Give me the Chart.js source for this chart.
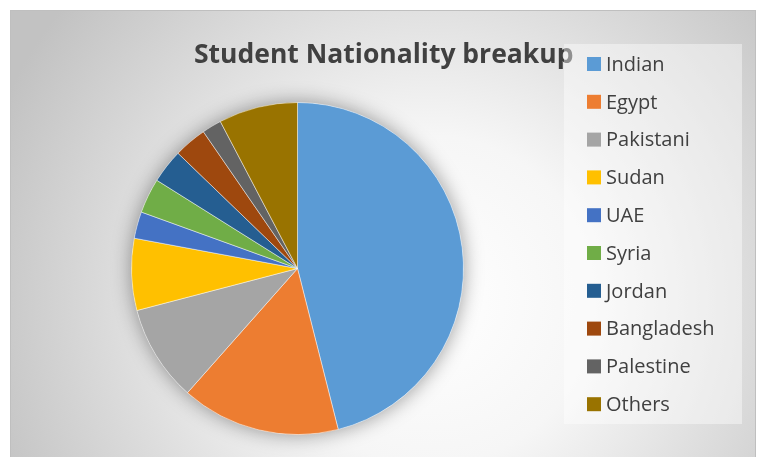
<!DOCTYPE html>
<html>
<head>
<meta charset="utf-8">
<title>Student Nationality breakup</title>
<script src="https://cdn.jsdelivr.net/npm/chart.js@4.4.1/dist/chart.umd.min.js"></script>
<style>
  html, body { margin: 0; padding: 0; background: #ffffff; }
  #wrap { width: 760px; height: 457px; }
</style>
</head>
<body>
<div id="wrap"><canvas id="nationalityChart" width="760" height="457"></canvas></div>
<script>
// chart data (% of students)
const chartTitle = "Student Nationality breakup";
const nationalities = ["Indian", "Egypt", "Pakistani", "Sudan", "UAE", "Syria", "Jordan", "Bangladesh", "Palestine", "Others"];
const shares = [46.1, 15.5, 9.4, 7.0, 2.6, 3.4, 3.3, 3.2, 1.9, 7.7];
const sliceColors = ["#5B9BD5", "#ED7D31", "#A5A5A5", "#FFC000", "#4472C4", "#70AD47", "#255E91", "#9E480E", "#636363", "#997300"];

// frame, background gradient and the soft shadow under the pie
const backdrop = {
  id: "backdrop",
  beforeDraw(chart) {
    const ctx = chart.ctx;
    ctx.save();
    ctx.fillStyle = "#ffffff";
    ctx.fillRect(0, 0, chart.width, chart.height);
    const g = ctx.createRadialGradient(430, 300, 0, 430, 300, 470);
    g.addColorStop(0, "#ffffff");
    g.addColorStop(0.35, "#f6f6f6");
    g.addColorStop(1, "#c2c2c2");
    ctx.fillStyle = g;
    ctx.fillRect(10, 10, 746, 447);
    ctx.strokeStyle = "#bfbfbf";
    ctx.lineWidth = 1;
    ctx.strokeRect(10.5, 10.5, 745, 447);
    ctx.restore();
  },
  beforeDatasetsDraw(chart) {
    const arc = chart.getDatasetMeta(0).data[0];
    if (!arc) return;
    const ctx = chart.ctx;
    ctx.save();
    ctx.shadowColor = "rgba(0,0,0,0.4)";
    ctx.shadowBlur = 20;
    ctx.fillStyle = "#ffffff";
    ctx.beginPath();
    ctx.arc(arc.x, arc.y, arc.outerRadius, 0, Math.PI * 2);
    ctx.fill();
    ctx.restore();
  }
};

// title and legend drawn the way the spreadsheet laid them out
const titleAndLegend = {
  id: "titleAndLegend",
  afterDraw(chart) {
    const ctx = chart.ctx;
    ctx.save();
    ctx.fillStyle = "#404040";
    ctx.font = "bold 26.5px 'Open Sans', 'Noto Sans', sans-serif";
    ctx.textAlign = "left";
    ctx.textBaseline = "alphabetic";
    ctx.fillText(chartTitle, 194, 63);

    // legend box sits over the end of the title
    ctx.fillStyle = "rgba(255,255,255,0.42)";
    ctx.fillRect(564, 44, 178, 380);

    const labels = chart.data.labels;
    const colors = chart.data.datasets[0].backgroundColor;
    ctx.font = "20px 'Open Sans', 'Noto Sans', sans-serif";
    ctx.textAlign = "left";
    ctx.textBaseline = "middle";
    labels.forEach((label, i) => {
      const y = 64 + i * 37.8;
      ctx.fillStyle = colors[i];
      ctx.fillRect(587, y - 7, 14, 14);
      ctx.fillStyle = "#404040";
      ctx.fillText(label, 606, y + 1);
    });
    ctx.restore();
  }
};

const nationalityChart = new Chart(document.getElementById("nationalityChart"), {
  type: "pie",
  data: {
    labels: nationalities,
    datasets: [{
      data: shares,
      backgroundColor: sliceColors,
      borderColor: "rgba(255,255,255,0.45)",
      borderWidth: 1
    }]
  },
  options: {
    responsive: false,
    animation: false,
    layout: { padding: { left: 131, right: 296, top: 102, bottom: 22 } },
    plugins: {
      legend: { display: false },
      title: { display: false },
      tooltip: { enabled: false }
    }
  },
  plugins: [backdrop, titleAndLegend]
});
</script>
</body>
</html>
